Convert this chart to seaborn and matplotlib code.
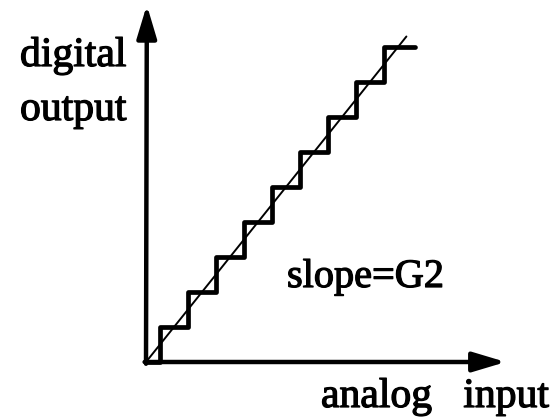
import matplotlib
matplotlib.use("Agg")
import matplotlib.pyplot as plt
import matplotlib.patheffects as pe
import seaborn as sns
import pandas as pd

# Quantizer transfer characteristic: code edges (analog input) and output levels
step_edges = [0, 0.5, 1.5, 2.5, 3.5, 4.5, 5.5, 6.5, 7.5, 8.5, 9.6]
step_levels = [0, 1, 2, 3, 4, 5, 6, 7, 8, 9, 9]
# Ideal linear gain line
slope_x = [0, 9.3]
slope_y = [0, 9.3]

x_label = "analog   input"
y_label = ["digital", "output"]
slope_label = "slope=G2"

sns.set_theme(style="white")
plt.rcParams["font.family"] = ["Liberation Serif", "DejaVu Serif"]

fig = plt.figure(figsize=(5.6, 4.18), dpi=100)
ax = fig.add_axes([0, 0, 1, 1])
ax.set_xlim(-146 / 28, 414 / 28)
ax.set_ylim(-56 / 35, 362 / 35)
ax.axis("off")

stairs = pd.DataFrame({"x": step_edges, "y": step_levels})
sns.lineplot(data=stairs, x="x", y="y", drawstyle="steps-post", estimator=None,
             sort=False, color="black", linewidth=3.4, ax=ax)

line = pd.DataFrame({"x": slope_x, "y": slope_y})
sns.lineplot(data=line, x="x", y="y", estimator=None, sort=False,
             color="black", linewidth=1.4, ax=ax)

# Axes with arrow heads
arrow = dict(arrowstyle="-|>,head_length=1.0,head_width=0.3", lw=3.2,
             color="black", mutation_scale=20, shrinkA=0, shrinkB=0)
ax.annotate("", xy=(0.03, 10.2), xytext=(0, -0.05), arrowprops=arrow)
ax.annotate("", xy=(12.85, 0), xytext=(-0.05, 0), arrowprops=arrow)

# Slightly heavier strokes on the serif labels
heavy = [pe.withStroke(linewidth=0.9, foreground="black")]
fs = 30
style = dict(transform=ax.transAxes, fontsize=fs, ha="left", va="baseline",
             color="black", path_effects=heavy)
ax.text(20 / 560, 1 - 66 / 418, y_label[0], **style)
ax.text(20 / 560, 1 - 120 / 418, y_label[1], **style)
ax.text(321 / 560, 1 - 407 / 418, x_label, **style)
style["fontsize"] = fs - 1
ax.text(287 / 560, 1 - 287 / 418, slope_label, **style)

fig.savefig("out.png", dpi=100, facecolor="white")
